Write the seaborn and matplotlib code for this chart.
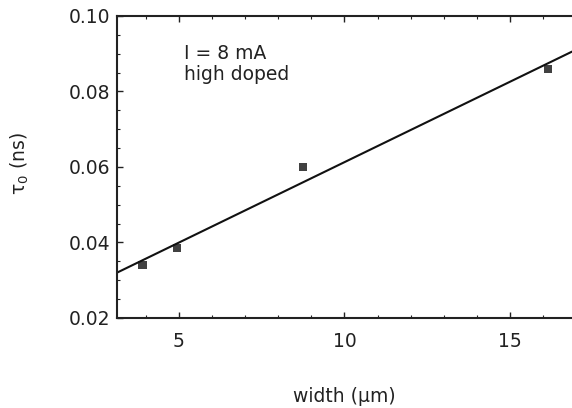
import numpy as np
import pandas as pd
import matplotlib
matplotlib.use("Agg")
import matplotlib.pyplot as plt
from matplotlib.ticker import MultipleLocator
import seaborn as sns

# Measured decay constant vs. stripe width
width_um = [3.9, 4.95, 8.75, 16.15]
tau0_ns = [0.034, 0.0385, 0.060, 0.086]

x_ticks = [5, 10, 15]
y_ticks = [0.02, 0.04, 0.06, 0.08, 0.10]

sns.set_style("ticks")
plt.rcParams["font.family"] = ["DejaVu Sans"]

FS = 13.5
INK = "#222222"

df = pd.DataFrame({"width": width_um, "tau0": tau0_ns})

fig = plt.figure(figsize=(5.72, 4.08), dpi=100)
ax = fig.add_axes([0.2045, 0.2206, 0.7955, 0.7402])
ax.set_xlim(3.13, 16.87)
ax.set_ylim(0.02, 0.10)

# least-squares line across the full axis range
sns.regplot(data=df, x="width", y="tau0", ax=ax, ci=None, truncate=False,
            marker="s",
            scatter_kws=dict(s=36, color="#111111", edgecolors="none", zorder=3),
            line_kws=dict(color="#111111", lw=1.5))

ax.set_xticks(x_ticks)
ax.set_yticks(y_ticks)
ax.set_yticklabels([f"{v:.2f}" for v in y_ticks])
ax.xaxis.set_minor_locator(MultipleLocator(1))
ax.yaxis.set_minor_locator(MultipleLocator(0.005))
ax.tick_params(which="both", direction="in", top=True, right=False,
               colors=INK, labelsize=FS, labelcolor=INK)
ax.tick_params(which="major", length=4, width=1)
ax.tick_params(which="minor", length=2.5, width=0.8)
ax.tick_params(axis="x", pad=10)
ax.tick_params(axis="y", pad=5)

for side in ["left", "bottom", "top"]:
    ax.spines[side].set_linewidth(1.5)
    ax.spines[side].set_color(INK)
ax.spines["right"].set_visible(False)

ax.set_xlabel("width (\u03bcm)", fontsize=FS, color=INK)
ax.set_ylabel("\u03c4$_0$ (ns)", fontsize=FS, color=INK)
ax.xaxis.set_label_coords(0.5, -0.228)
ax.yaxis.set_label_coords(-0.19, 0.51)

ax.text(5.15, 0.0925, "I = 8 mA\nhigh doped", fontsize=FS, color=INK,
        va="top", ha="left", linespacing=1.1)

fig.savefig("out.png", dpi=100)
